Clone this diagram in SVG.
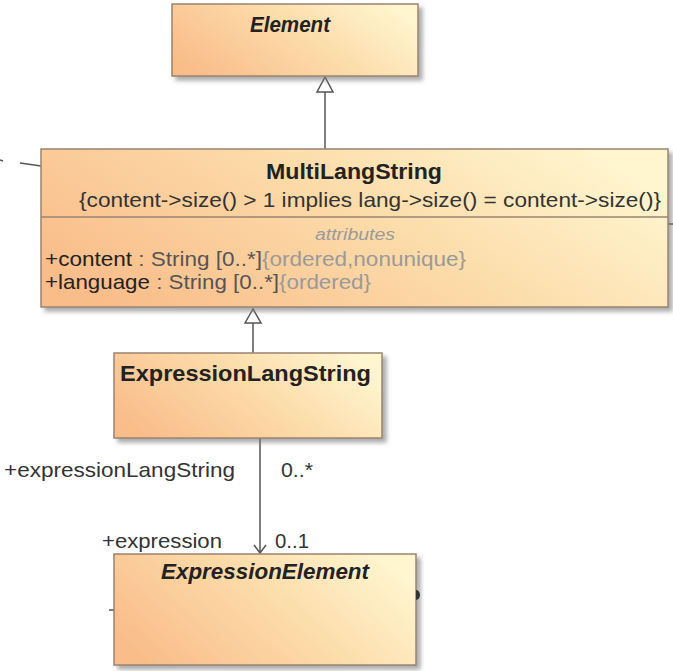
<svg xmlns="http://www.w3.org/2000/svg" width="673" height="671" viewBox="0 0 673 671">
<style>
  .box { fill: url(#g); stroke: #9a8470; stroke-width: 1.5; filter: url(#sh); }
  .sep { stroke: #9a8470; stroke-width: 1.5; }
  .t { font-family: "Liberation Sans", Arial, sans-serif; fill: #222; }
  .title { font-size: 22px; font-weight: bold; }
  .abs { font-style: italic; }
  .lbl { font-size: 21px; fill: #333; }
  .gray { fill: #9a9a9a; }
  .mid { fill: #555; }
  .ln { stroke: #555; stroke-width: 1.5; fill: none; }
  .tri { stroke: #555; stroke-width: 1.5; fill: #fff; }
</style>
<defs>
  <linearGradient id="g" x1="0" y1="0.7" x2="1" y2="0.3">
    <stop offset="0" stop-color="#f9bd8a"/>
    <stop offset="0.55" stop-color="#fcdcaa"/>
    <stop offset="1" stop-color="#fff5cf"/>
  </linearGradient>
  <filter id="sh" x="-5%" y="-5%" width="115%" height="120%">
    <feDropShadow dx="4" dy="4" stdDeviation="2" flood-color="#777" flood-opacity="0.6"/>
  </filter>
</defs>
<rect width="673" height="671" fill="#fff"/>

<g id="connectors">
  <line class="ln" x1="325" y1="92" x2="325" y2="149"/>
  <polygon class="tri" points="325,77 317,92 333,92"/>
  <line class="ln" x1="253" y1="323" x2="253" y2="353"/>
  <polygon class="tri" points="253,309 245,323 261,323"/>
  <line class="ln" x1="260" y1="438" x2="260" y2="553"/>
  <polyline class="ln" points="254,545 260,553 266,545"/>
  <line class="ln" x1="20" y1="163" x2="41" y2="166"/>
  <line class="ln" x1="0" y1="160" x2="3" y2="161"/>
  <line class="ln" x1="668" y1="224" x2="673" y2="224"/>
  <line class="ln" x1="109" y1="610" x2="114" y2="610"/>
  <text class="t lbl" x="4" y="477" textLength="231" lengthAdjust="spacingAndGlyphs">+expressionLangString</text>
  <text class="t lbl" x="281" y="477" textLength="32" lengthAdjust="spacingAndGlyphs">0..*</text>
  <text class="t lbl" x="102" y="548" textLength="120" lengthAdjust="spacingAndGlyphs">+expression</text>
  <text class="t lbl" x="275" y="548" textLength="34" lengthAdjust="spacingAndGlyphs">0..1</text>
</g>

<g id="Element">
  <rect class="box" x="172" y="4" width="246" height="72"/>
  <text class="t title abs" x="250" y="32" textLength="80" lengthAdjust="spacingAndGlyphs">Element</text>
</g>

<g id="MultiLangString">
  <rect class="box" x="41" y="149" width="627" height="158"/>
  <line class="sep" x1="41" y1="217" x2="668" y2="217"/>
  <text class="t title" x="266" y="179" textLength="176" lengthAdjust="spacingAndGlyphs">MultiLangString</text>
  <text class="t lbl" x="79" y="207" textLength="582" lengthAdjust="spacingAndGlyphs">{content-&gt;size() &gt; 1 implies lang-&gt;size() = content-&gt;size()}</text>
  <text class="t gray abs" font-size="16" x="315" y="240" textLength="80" lengthAdjust="spacingAndGlyphs">attributes</text>
  <text class="t lbl" x="45" y="266" textLength="421" lengthAdjust="spacingAndGlyphs"><tspan fill="#222">+content</tspan><tspan class="mid"> : String [0..*]</tspan><tspan class="gray">{ordered,nonunique}</tspan></text>
  <text class="t lbl" x="45" y="289" textLength="326" lengthAdjust="spacingAndGlyphs"><tspan fill="#222">+language</tspan><tspan class="mid"> : String [0..*]</tspan><tspan class="gray">{ordered}</tspan></text>
</g>

<g id="ExpressionLangString">
  <rect class="box" x="114" y="353" width="268" height="85"/>
  <text class="t title" x="120" y="381" textLength="251" lengthAdjust="spacingAndGlyphs">ExpressionLangString</text>
</g>

<g id="ExpressionElement">
  <rect class="box" x="114" y="554" width="302" height="111"/>
  <text class="t title abs" x="161" y="579" textLength="208" lengthAdjust="spacingAndGlyphs">ExpressionElement</text>
  <path d="M416,590 A4,5 0 0 1 416,600 Z" fill="#333"/>
</g>
</svg>
